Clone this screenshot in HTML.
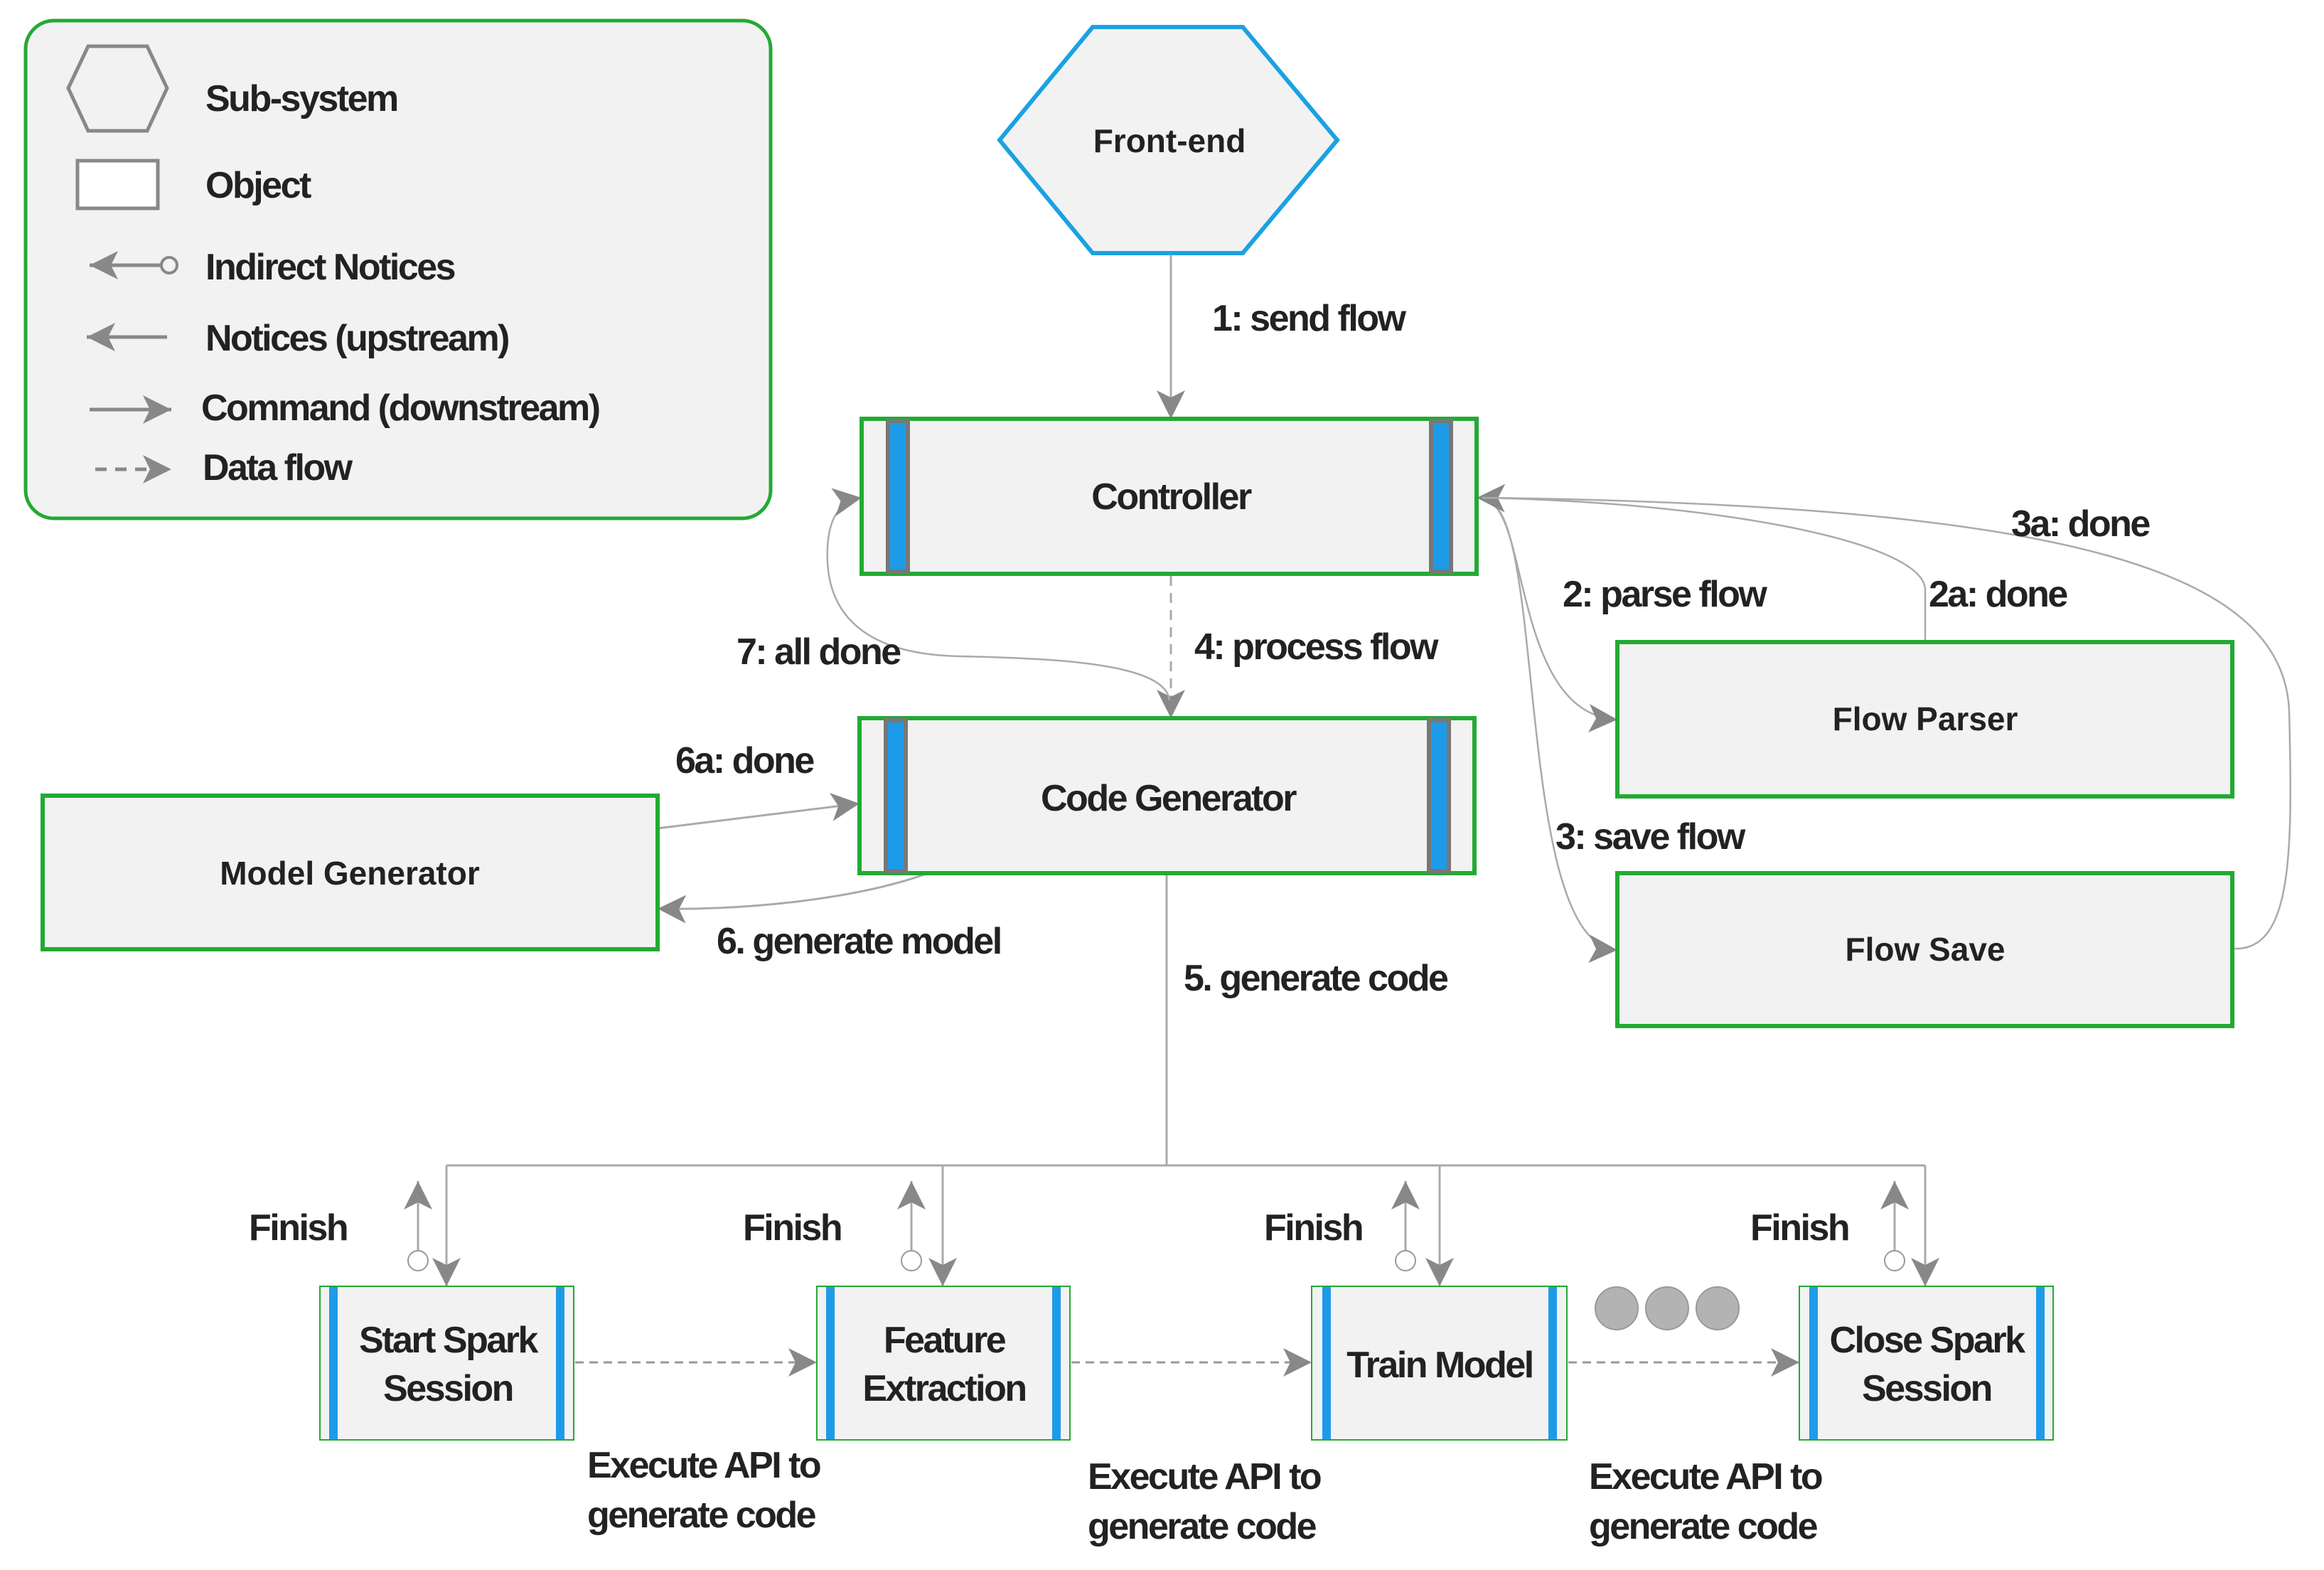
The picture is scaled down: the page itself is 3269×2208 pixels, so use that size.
<!DOCTYPE html>
<html><head><meta charset="utf-8"><style>
html,body{margin:0;padding:0;background:#fff;}
svg{display:block;}
.t{font-family:"Liberation Sans",sans-serif;font-weight:bold;fill:#222;font-size:52px;letter-spacing:-2.5px;}
.n{font-family:"Liberation Sans",sans-serif;font-weight:bold;fill:#222;font-size:46px;}
</style></head><body>
<svg width="3269" height="2208" viewBox="0 0 3269 2208" xmlns="http://www.w3.org/2000/svg">
<defs>
<marker id="a" markerUnits="userSpaceOnUse" markerWidth="44" markerHeight="40" refX="40" refY="20" orient="auto">
<path d="M0,0 L40,20 L0,40 L10,20 Z" fill="#888"/></marker>
</defs>
<!-- legend -->
<rect x="36" y="29" width="1048" height="700" rx="40" fill="#f2f2f2" stroke="#22aa33" stroke-width="5"/>
<polygon points="96,124 124,65 207,65 235,124 207,184 124,184" fill="none" stroke="#888" stroke-width="5"/>
<rect x="109" y="226" width="113" height="67" fill="#fff" stroke="#888" stroke-width="5"/>
<line x1="240" y1="373" x2="126" y2="373" stroke="#888" stroke-width="5" marker-end="url(#a)"/>
<circle cx="238" cy="373" r="11" fill="#f2f2f2" stroke="#888" stroke-width="4"/>
<line x1="235" y1="474" x2="122" y2="474" stroke="#888" stroke-width="5" marker-end="url(#a)"/>
<line x1="126" y1="576" x2="241" y2="576" stroke="#888" stroke-width="5" marker-end="url(#a)"/>
<line x1="134" y1="660" x2="241" y2="660" stroke="#888" stroke-width="5" stroke-dasharray="16,12" marker-end="url(#a)"/>
<text class="t" x="289" y="156">Sub-system</text>
<text class="t" x="289" y="278">Object</text>
<text class="t" x="289" y="393">Indirect Notices</text>
<text class="t" x="289" y="493">Notices (upstream)</text>
<text class="t" x="283" y="591">Command (downstream)</text>
<text class="t" x="285" y="675">Data flow</text>

<!-- front end -->
<polygon points="1406,197 1537,38 1748,38 1881,197 1748,356 1537,356" fill="#f2f2f2" stroke="#1ba1e2" stroke-width="6"/>
<text class="n" x="1645" y="214" text-anchor="middle">Front-end</text>

<!-- connectors -->
<line x1="1647" y1="358" x2="1647" y2="589" stroke="#aaa" stroke-width="3" marker-end="url(#a)"/>
<line x1="1647" y1="810" x2="1647" y2="1010" stroke="#aaa" stroke-width="3" stroke-dasharray="14,10" marker-end="url(#a)"/>
<path d="M1645,985 C1640,935 1500,926 1350,923 C1200,920 1160,850 1164,770 C1166,730 1180,705 1212,700" fill="none" stroke="#aaa" stroke-width="2.5" marker-end="url(#a)"/>
<line x1="925" y1="1165" x2="1209" y2="1130" stroke="#aaa" stroke-width="3" marker-end="url(#a)"/>
<path d="M1300,1230 C1200,1265 1050,1280 925,1278" fill="none" stroke="#aaa" stroke-width="3" marker-end="url(#a)"/>
<path d="M2092,705 C2150,720 2130,1005 2275,1012" fill="none" stroke="#aaa" stroke-width="2.5" marker-end="url(#a)"/>
<path d="M2092,705 C2175,720 2130,1330 2275,1336" fill="none" stroke="#aaa" stroke-width="2.5" marker-end="url(#a)"/>
<path d="M2708,903 L2708,830 C2708,760 2400,705 2077,700" fill="none" stroke="#aaa" stroke-width="2.5" marker-end="url(#a)"/>
<path d="M3140,1334 C3225,1340 3225,1200 3220,1000 C3212,800 2900,710 2085,700" fill="none" stroke="#aaa" stroke-width="2.5"/>
<line x1="1641" y1="1228" x2="1641" y2="1639" stroke="#aaa" stroke-width="3"/>
<line x1="628" y1="1639" x2="2708" y2="1639" stroke="#aaa" stroke-width="3"/>

<!-- controller -->
<rect x="1212" y="589" width="865" height="218" fill="#f2f2f2" stroke="#22aa33" stroke-width="6"/>
<rect x="1249" y="592" width="28" height="212" fill="#1e9be8" stroke="#777" stroke-width="6"/>
<rect x="2013" y="592" width="28" height="212" fill="#1e9be8" stroke="#777" stroke-width="6"/>
<text class="t" x="1647" y="716" text-anchor="middle">Controller</text>
<!-- code generator -->
<rect x="1209" y="1010" width="865" height="218" fill="#f2f2f2" stroke="#22aa33" stroke-width="6"/>
<rect x="1246" y="1013" width="28" height="212" fill="#1e9be8" stroke="#777" stroke-width="6"/>
<rect x="2010" y="1013" width="28" height="212" fill="#1e9be8" stroke="#777" stroke-width="6"/>
<text class="t" x="1643" y="1140" text-anchor="middle">Code Generator</text>
<!-- model generator -->
<rect x="60" y="1119" width="865" height="216" fill="#f2f2f2" stroke="#22aa33" stroke-width="6"/>
<text class="n" x="492" y="1244" text-anchor="middle">Model Generator</text>
<!-- flow parser / save -->
<rect x="2275" y="903" width="865" height="217" fill="#f2f2f2" stroke="#22aa33" stroke-width="6"/>
<text class="n" x="2708" y="1027" text-anchor="middle">Flow Parser</text>
<rect x="2275" y="1228" width="865" height="215" fill="#f2f2f2" stroke="#22aa33" stroke-width="6"/>
<text class="n" x="2708" y="1351" text-anchor="middle">Flow Save</text>

<!-- labels -->
<text class="t" x="1705" y="465">1: send flow</text>
<text class="t" x="1680" y="927">4: process flow</text>
<text class="t" x="1036" y="934">7: all done</text>
<text class="t" x="950" y="1087">6a: done</text>
<text class="t" x="1008" y="1341">6. generate model</text>
<text class="t" x="1665" y="1393">5. generate code</text>
<text class="t" x="2198" y="853">2: parse flow</text>
<text class="t" x="2713" y="853">2a: done</text>
<text class="t" x="2829" y="754">3a: done</text>
<text class="t" x="2188" y="1194">3: save flow</text>

<!-- bottom row -->
<g stroke="#aaa" stroke-width="3" fill="none">
<line x1="628" y1="1639" x2="628" y2="1809" marker-end="url(#a)"/>
<line x1="1326" y1="1639" x2="1326" y2="1809" marker-end="url(#a)"/>
<line x1="2025" y1="1639" x2="2025" y2="1809" marker-end="url(#a)"/>
<line x1="2708" y1="1639" x2="2708" y2="1809" marker-end="url(#a)"/>
<line x1="588" y1="1759" x2="588" y2="1661" marker-end="url(#a)"/>
<line x1="1282" y1="1759" x2="1282" y2="1661" marker-end="url(#a)"/>
<line x1="1977" y1="1759" x2="1977" y2="1661" marker-end="url(#a)"/>
<line x1="2665" y1="1759" x2="2665" y2="1661" marker-end="url(#a)"/>
<line x1="809" y1="1916" x2="1149" y2="1916" stroke="#999" stroke-dasharray="12,8" marker-end="url(#a)"/>
<line x1="1507" y1="1916" x2="1845" y2="1916" stroke="#999" stroke-dasharray="12,8" marker-end="url(#a)"/>
<line x1="2206" y1="1916" x2="2531" y2="1916" stroke="#999" stroke-dasharray="12,8" marker-end="url(#a)"/>
</g>
<g fill="#fff" stroke="#999" stroke-width="2">
<circle cx="588" cy="1773" r="14"/><circle cx="1282" cy="1773" r="14"/><circle cx="1977" cy="1773" r="14"/><circle cx="2665" cy="1773" r="14"/>
</g>
<g fill="#b3b3b3" stroke="#999" stroke-width="2">
<circle cx="2274" cy="1840" r="30"/><circle cx="2345" cy="1840" r="30"/><circle cx="2416" cy="1840" r="30"/>
</g>
<g>
<rect x="450" y="1809" width="357" height="216" fill="#f2f2f2" stroke="#22aa33" stroke-width="2"/>
<rect x="463" y="1810" width="12" height="214" fill="#1e9be8"/><rect x="782" y="1810" width="12" height="214" fill="#1e9be8"/>
<rect x="1149" y="1809" width="356" height="216" fill="#f2f2f2" stroke="#22aa33" stroke-width="2"/>
<rect x="1162" y="1810" width="12" height="214" fill="#1e9be8"/><rect x="1480" y="1810" width="12" height="214" fill="#1e9be8"/>
<rect x="1845" y="1809" width="359" height="216" fill="#f2f2f2" stroke="#22aa33" stroke-width="2"/>
<rect x="1860" y="1810" width="12" height="214" fill="#1e9be8"/><rect x="2178" y="1810" width="12" height="214" fill="#1e9be8"/>
<rect x="2531" y="1809" width="357" height="216" fill="#f2f2f2" stroke="#22aa33" stroke-width="2"/>
<rect x="2545" y="1810" width="12" height="214" fill="#1e9be8"/><rect x="2864" y="1810" width="12" height="214" fill="#1e9be8"/>
</g>
<text class="t" x="630" y="1902" text-anchor="middle">Start Spark</text>
<text class="t" x="630" y="1970" text-anchor="middle">Session</text>
<text class="t" x="1328" y="1902" text-anchor="middle">Feature</text>
<text class="t" x="1328" y="1970" text-anchor="middle">Extraction</text>
<text class="t" x="2025" y="1937" text-anchor="middle">Train Model</text>
<text class="t" x="2710" y="1902" text-anchor="middle">Close Spark</text>
<text class="t" x="2710" y="1970" text-anchor="middle">Session</text>
<text class="t" x="350" y="1744">Finish</text>
<text class="t" x="1045" y="1744">Finish</text>
<text class="t" x="1778" y="1744">Finish</text>
<text class="t" x="2462" y="1744">Finish</text>
<text class="t" x="826" y="2078">Execute API to</text>
<text class="t" x="826" y="2148">generate code</text>
<text class="t" x="1530" y="2094">Execute API to</text>
<text class="t" x="1530" y="2164">generate code</text>
<text class="t" x="2235" y="2094">Execute API to</text>
<text class="t" x="2235" y="2164">generate code</text>
</svg>
</body></html>
